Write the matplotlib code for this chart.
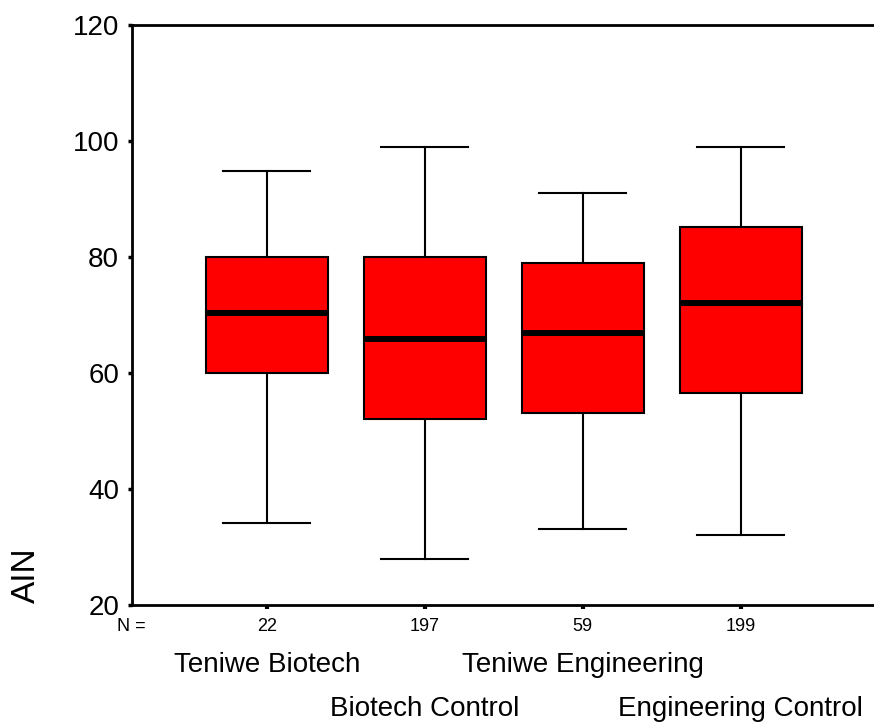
import matplotlib.pyplot as plt
import matplotlib.transforms as mtransforms

plt.rcParams['font.family'] = ['Liberation Sans', 'DejaVu Sans']

# dados
grupos = ["Teniwe Biotech", "Biotech Control", "Teniwe Engineering", "Engineering Control"]
n_casos = [22, 197, 59, 199]
minimo = [34.1, 27.9, 33.1, 32.1]
q1 = [60.0, 52.0, 53.1, 56.6]
mediana = [70.4, 65.9, 66.9, 72.1]
q3 = [80.0, 80.0, 79.0, 85.2]
maximo = [94.8, 99.0, 91.1, 99.0]

stats = []
for i in range(len(grupos)):
    stats.append({"med": mediana[i], "q1": q1[i], "q3": q3[i],
                  "whislo": minimo[i], "whishi": maximo[i], "fliers": []})

fig = plt.figure(figsize=(8.74, 7.23), dpi=100)
ax = fig.add_axes([0.1507, 0.1632, 0.8493, 0.8022])

posicoes = list(range(1, len(grupos) + 1))
ax.bxp(stats, positions=posicoes, widths=0.772, capwidths=0.55,
       patch_artist=True, showfliers=False,
       boxprops=dict(facecolor="#ff0000", edgecolor="black", linewidth=1.5),
       medianprops=dict(color="black", linewidth=4.3, solid_capstyle="butt"),
       whiskerprops=dict(color="black", linewidth=1.5),
       capprops=dict(color="black", linewidth=1.5))

ax.set_xlim(0.1456, 4.844)
ax.set_ylim(20, 120)
ax.set_yticks([20, 40, 60, 80, 100, 120])
ax.tick_params(axis="y", direction="out", length=3, width=2.5, labelsize=20, pad=6)
ax.set_xticks(posicoes)
ax.set_xticklabels([str(n) for n in n_casos])
ax.tick_params(axis="x", direction="out", length=3, width=3, labelsize=13, pad=6)

for lado in ["left", "bottom", "top"]:
    ax.spines[lado].set_linewidth(2)
ax.spines["right"].set_visible(False)

trans = mtransforms.blended_transform_factory(ax.transData, fig.transFigure)
ax.text(0.1456, 0.1328, "N =", transform=trans, ha="center", va="center", fontsize=13)
for i in range(len(grupos)):
    y = 0.0802 if i % 2 == 0 else 0.0194
    ax.text(posicoes[i], y, grupos[i], transform=trans, ha="center", va="center", fontsize=20)

fig.text(0.030, 1 - 575 / 723, "AIN", rotation=90, ha="center", va="center", fontsize=24)

plt.savefig("out.png", dpi=100)
